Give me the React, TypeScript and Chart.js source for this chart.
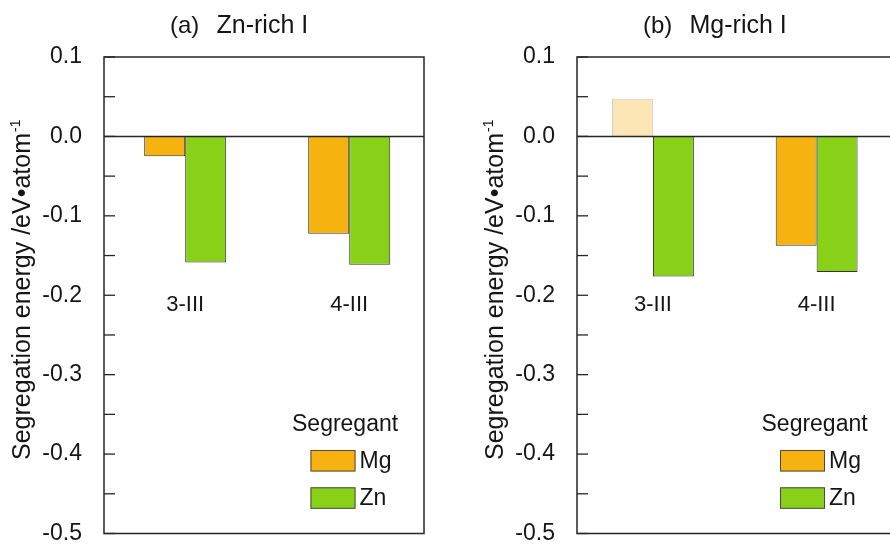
import React, { useEffect, useRef } from 'react';
import { Chart, registerables } from 'chart.js';

Chart.register(...registerables);

// Grain-boundary sites and segregating species
const categories = ['3-III', '4-III'];
const seriesNames = ['Mg', 'Zn'];

// Segregation energies (eV/atom)
const znRichMg = [-0.025, -0.1225];
const znRichZn = [-0.1587, -0.1615];
const mgRichMg = [0.0475, -0.1376];
const mgRichZn = [-0.1763, -0.1707];

// Value axis
const yMin = -0.5;
const yMax = 0.1;
const yMinorStep = 0.05;

const FONT = '"Liberation Sans", Arial, Helvetica, sans-serif';
const TEXT = '#151515';
const FRAME = '#262626';
const ORANGE = '#F6B20F';
const GREEN = '#89D118';
const PALE_ORANGE = '#FCE6B6';
const PALE_EDGE = '#CFCFCF';
const BAR_EDGE = '#333333';
const seriesColors = [ORANGE, GREEN];

type Panel = {
  tag: string;
  name: string;
  mg: number[];
  zn: number[];
  mgFill: string[];
  mgEdge: string[];
  left: number;
  width: number;
  axisWidth: number;
  padRight: number;
  xMin: number;
  xMax: number;
  legendOffset: number;
};

const panels: Panel[] = [
  {
    tag: '(a)',
    name: 'Zn-rich I',
    mg: znRichMg,
    zn: znRichZn,
    mgFill: [ORANGE, ORANGE],
    mgEdge: [BAR_EDGE, BAR_EDGE],
    left: 0,
    width: 445,
    axisWidth: 104,
    padRight: 21,
    xMin: -0.495,
    xMax: 1.456,
    legendOffset: 188,
  },
  {
    tag: '(b)',
    name: 'Mg-rich I',
    mg: mgRichMg,
    zn: mgRichZn,
    mgFill: [PALE_ORANGE, ORANGE],
    mgEdge: [PALE_EDGE, BAR_EDGE],
    left: 445,
    width: 480,
    axisWidth: 132,
    padRight: 28,
    xMin: -0.464,
    xMax: 1.491,
    legendOffset: 184.5,
  },
];

const isMajor = (v: number) => Math.abs(v * 10 - Math.round(v * 10)) < 1e-6;
const fmt = (v: number) => (Math.round(v * 10) / 10).toFixed(1);

function overlayPlugin(p: Panel) {
  return {
    id: 'panelOverlay',
    afterDatasetsDraw(chart: any) {
      const { ctx, chartArea } = chart;
      const { left, right, top, bottom } = chartArea;
      const x = chart.scales.x;
      const y = chart.scales.y;
      ctx.save();

      // zero line
      ctx.strokeStyle = FRAME;
      ctx.lineWidth = 1.5;
      const y0 = y.getPixelForValue(0);
      ctx.beginPath();
      ctx.moveTo(left, y0);
      ctx.lineTo(right, y0);
      ctx.stroke();

      // inward ticks on the value axis
      ctx.lineWidth = 1.3;
      y.ticks.forEach((t: any) => {
        const py = y.getPixelForValue(t.value);
        ctx.beginPath();
        ctx.moveTo(left, py);
        ctx.lineTo(left + 11, py);
        ctx.stroke();
      });

      // frame
      ctx.lineWidth = 1.5;
      ctx.strokeRect(left, top, right - left, bottom - top);

      // site labels below the bars
      ctx.fillStyle = TEXT;
      ctx.font = `22px ${FONT}`;
      ctx.textAlign = 'center';
      ctx.textBaseline = 'alphabetic';
      categories.forEach((c, i) => {
        ctx.fillText(c, x.getPixelForValue(i), y.getPixelForValue(-0.2) + 16);
      });

      // panel title: tag, then composition name
      ctx.font = `24px ${FONT}`;
      ctx.textAlign = 'left';
      ctx.fillText(p.tag, left + 66, 32.5);
      ctx.font = `25px ${FONT}`;
      ctx.fillText(p.name, left + 112.5, 32.5);

      // value axis title with superscript
      ctx.save();
      ctx.translate(left - 74, (top + bottom) / 2 - 5);
      ctx.rotate(-Math.PI / 2);
      const main = 'Segregation energy /eV\u2022atom';
      const sup = '-1';
      ctx.font = `25px ${FONT}`;
      const wMain = ctx.measureText(main).width;
      ctx.font = `14px ${FONT}`;
      const wSup = ctx.measureText(sup).width;
      const x0 = -(wMain + wSup) / 2;
      ctx.font = `25px ${FONT}`;
      ctx.fillText(main, x0, 0);
      ctx.font = `14px ${FONT}`;
      ctx.fillText(sup, x0 + wMain + 1, -10);
      ctx.restore();

      // legend
      const lx = left + p.legendOffset;
      ctx.font = `23px ${FONT}`;
      ctx.textBaseline = 'middle';
      ctx.fillText('Segregant', lx, bottom - 108.5);
      seriesNames.forEach((s, i) => {
        const bx = lx + 18.5;
        const by = bottom - 83.5 + i * 37.3;
        ctx.fillStyle = seriesColors[i];
        ctx.fillRect(bx, by, 45, 21.5);
        ctx.strokeStyle = '#4a4a4a';
        ctx.lineWidth = 1;
        ctx.strokeRect(bx + 0.5, by + 0.5, 44, 20.5);
        ctx.fillStyle = TEXT;
        ctx.fillText(s, bx + 49, by + 11.5);
      });

      ctx.restore();
    },
  };
}

function PanelChart({ p }: { p: Panel }) {
  const ref = useRef<HTMLCanvasElement | null>(null);
  useEffect(() => {
    if (!ref.current) return;
    const chart = new Chart(ref.current, {
      type: 'bar',
      data: {
        datasets: [
          {
            label: seriesNames[0],
            data: categories.map((_, i) => ({ x: i, y: p.mg[i] })),
            backgroundColor: p.mgFill,
            borderColor: p.mgEdge,
            borderWidth: 1,
          },
          {
            label: seriesNames[1],
            data: categories.map((_, i) => ({ x: i, y: p.zn[i] })),
            backgroundColor: GREEN,
            borderColor: BAR_EDGE,
            borderWidth: 1,
          },
        ],
      } as any,
      options: {
        responsive: false,
        animation: false,
        devicePixelRatio: 1,
        layout: { padding: { left: 0, top: 57, right: p.padRight, bottom: 10.5 } },
        datasets: { bar: { categoryPercentage: 0.5, barPercentage: 1 } },
        plugins: {
          legend: { display: false },
          tooltip: { enabled: false },
          title: { display: false },
        },
        scales: {
          x: {
            type: 'linear',
            min: p.xMin,
            max: p.xMax,
            offset: false,
            display: false,
            afterBuildTicks: (s: any) => {
              s.ticks = categories.map((_, i) => ({ value: i }));
            },
          },
          y: {
            type: 'linear',
            min: yMin,
            max: yMax,
            grid: { display: false },
            border: { display: false },
            afterFit: (s: any) => {
              s.width = p.axisWidth;
              s.paddingTop = 0;
              s.paddingBottom = 0;
            },
            ticks: {
              stepSize: yMinorStep,
              autoSkip: false,
              padding: 14,
              color: TEXT,
              font: { family: FONT, size: 23 },
              callback: (v: any) => (isMajor(Number(v)) ? fmt(Number(v)) : ''),
            },
          },
        },
      } as any,
      plugins: [overlayPlugin(p)],
    });
    return () => chart.destroy();
  }, [p]);
  return (
    <div style={{ position: 'absolute', left: p.left, top: 0, width: p.width, height: 544 }}>
      <canvas ref={ref} width={p.width} height={544} style={{ width: p.width, height: 544, display: 'block' }} />
    </div>
  );
}

export default function App() {
  return (
    <div
      style={{
        position: 'absolute',
        left: 0,
        top: 0,
        width: 890,
        height: 544,
        overflow: 'hidden',
        background: '#ffffff',
      }}
    >
      {panels.map((p) => (
        <PanelChart key={p.tag} p={p} />
      ))}
    </div>
  );
}
